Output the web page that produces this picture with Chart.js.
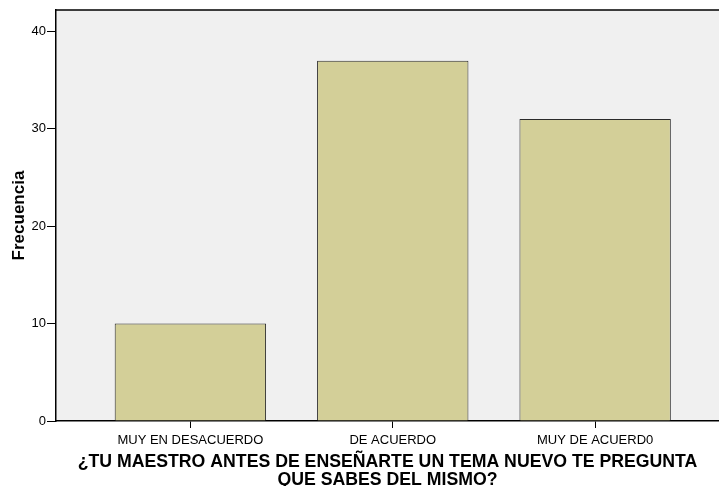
<!DOCTYPE html>
<html>
<head>
<meta charset="utf-8">
<script src="https://cdn.jsdelivr.net/npm/chart.js@4.4.1/dist/chart.umd.min.js"></script>
<style>
  html, body { margin: 0; padding: 0; background: #ffffff; }
  #wrap { width: 719px; height: 486px; position: relative; }
</style>
</head>
<body>
<div id="wrap"><canvas id="chart"></canvas></div>
<script>
const categories = ['MUY EN DESACUERDO', 'DE ACUERDO', 'MUY DE ACUERD0'];
const frecuencia = [10, 37, 31];
const yTicks = [0, 10, 20, 30, 40];
const yTitle = 'Frecuencia';
const xTitle = ['¿TU MAESTRO ANTES DE ENSEÑARTE UN TEMA NUEVO TE PREGUNTA', 'QUE SABES DEL MISMO?'];

const FONT = "'Liberation Sans', Arial, sans-serif";

// plot background and top frame line, like the SPSS output
const plotFrame = {
  id: 'plotFrame',
  beforeDraw(chart) {
    const { ctx, chartArea: a } = chart;
    ctx.save();
    ctx.fillStyle = '#f0f0f0';
    ctx.fillRect(a.left, a.top, a.right - a.left, a.bottom - a.top);
    ctx.restore();
  },
  afterDraw(chart) {
    const { ctx, chartArea: a } = chart;
    ctx.save();
    ctx.strokeStyle = '#000000';
    ctx.lineWidth = 1.5;
    ctx.beginPath();
    ctx.moveTo(a.left, a.top);
    ctx.lineTo(a.right, a.top);
    ctx.stroke();
    ctx.restore();
  }
};

new Chart(document.getElementById('chart').getContext('2d'), {
  type: 'bar',
  data: {
    datasets: [{
      label: yTitle,
      data: frecuencia.map((v, i) => ({ x: i + 1, y: v })),
      backgroundColor: '#d3cf98',
      borderColor: '#2a2a2a',
      borderWidth: 1,
      categoryPercentage: 1,
      barPercentage: 0.748
    }]
  },
  options: {
    responsive: true,
    maintainAspectRatio: false,
    animation: false,
    layout: { padding: { top: 10, right: 0, left: 0, bottom: 0 } },
    plugins: {
      legend: { display: false },
      tooltip: { enabled: false }
    },
    scales: {
      x: {
        type: 'linear',
        offset: false,
        min: 0.336,
        max: 3.612,
        afterBuildTicks: (scale) => { scale.ticks = categories.map((c, i) => ({ value: i + 1 })); },
        afterFit: (scale) => { scale.height = 65; },
        ticks: {
          autoSkip: false,
          maxRotation: 0,
          padding: 4.5,
          color: '#000000',
          font: { family: FONT, size: 13 },
          callback: (v) => categories[v - 1]
        },
        grid: { offset: false, drawOnChartArea: false, drawTicks: true, tickLength: 7, color: '#000000', lineWidth: 1 },
        border: { display: true, color: '#000000', width: 1.5 },
        title: {
          display: true,
          text: xTitle,
          color: '#000000',
          font: { family: FONT, size: 17.7, weight: 'bold', lineHeight: '17.5px' },
          padding: { top: 0, bottom: -2.75 }
        }
      },
      y: {
        min: 0,
        max: 42.2,
        afterBuildTicks: (scale) => { scale.ticks = yTicks.map(v => ({ value: v })); },
        afterFit: (scale) => { scale.width = 56; },
        ticks: {
          padding: 1,
          color: '#000000',
          font: { family: FONT, size: 13 }
        },
        grid: { drawOnChartArea: false, drawTicks: true, tickLength: 9, color: '#000000', lineWidth: 1 },
        border: { display: true, color: '#000000', width: 1.5 },
        title: {
          display: true,
          text: yTitle,
          color: '#000000',
          font: { family: FONT, size: 17, weight: 'bold', lineHeight: 1.2 },
          padding: { top: 9, bottom: 0 }
        }
      }
    }
  },
  plugins: [plotFrame]
});
</script>
</body>
</html>
